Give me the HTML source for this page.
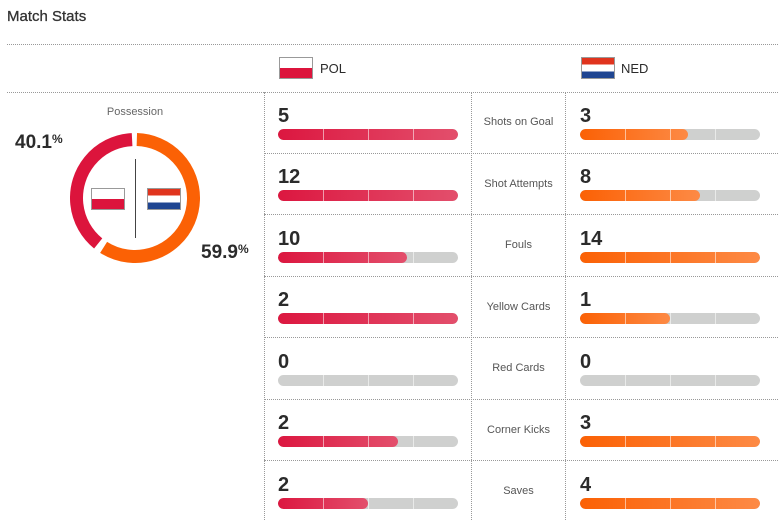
<!DOCTYPE html>
<html><head><meta charset="utf-8"><style>
body{margin:0;width:778px;height:520px;background:#fff;font-family:"Liberation Sans",sans-serif;position:relative;overflow:hidden;color:#2b2b2b}
.a{position:absolute}
.h{border-top:1px dotted #999;height:0}
.v{border-left:1px dotted #999;width:0}
.n{position:absolute;font-weight:bold;font-size:20px;line-height:20px}
.lb{position:absolute;left:471px;width:95px;text-align:center;font-size:11px;color:#555}
.bar{position:absolute;width:180px;height:11px;border-radius:6px;background:#cfd0cf;overflow:hidden}
.f{position:absolute;left:0;top:0;height:11px;border-radius:6px}
.r{background:linear-gradient(90deg,#dc1740,#e34f6c)}
.o{background:linear-gradient(90deg,#fb6105,#fd8a45)}
.t{position:absolute;top:0;width:1px;height:11px;background:rgba(255,255,255,.55)}
.flag{position:absolute;width:32px;height:20px;box-shadow:0 0 0 1px #999}
</style></head><body>
<div class="a" style="left:7px;top:8px;font-size:15px;color:#333;-webkit-text-stroke:0.3px #333">Match Stats</div>
<div class="a h" style="left:7px;top:44px;width:771px"></div>
<div class="a h" style="left:7px;top:92px;width:771px"></div>
<div class="a h" style="left:264px;top:153px;width:514px"></div>
<div class="a h" style="left:264px;top:214px;width:514px"></div>
<div class="a h" style="left:264px;top:276px;width:514px"></div>
<div class="a h" style="left:264px;top:337px;width:514px"></div>
<div class="a h" style="left:264px;top:399px;width:514px"></div>
<div class="a h" style="left:264px;top:460px;width:514px"></div>
<div class="a v" style="left:264px;top:92px;height:428px"></div>
<div class="a v" style="left:471px;top:92px;height:428px"></div>
<div class="a v" style="left:565px;top:92px;height:428px"></div>

<div class="flag" style="left:280px;top:58px;background:linear-gradient(#fff 50%,#dc143c 50%)"></div>
<div class="a" style="left:320px;top:61px;font-size:13px">POL</div>
<div class="flag" style="left:582px;top:58px;background:linear-gradient(#e0341e 33%,#fff 33%,#fff 67%,#1f4591 67%)"></div>
<div class="a" style="left:621px;top:61px;font-size:13px">NED</div>

<div class="a" style="left:85px;top:106px;width:100px;text-align:center;font-size:11px;color:#666">Possession</div>
<div class="a" style="left:15px;top:132px;font-size:19px;font-weight:bold">40.1<span style="font-size:12px;vertical-align:5px">%</span></div>
<div class="a" style="left:201px;top:242px;font-size:19px;font-weight:bold">59.9<span style="font-size:12px;vertical-align:5px">%</span></div>
<svg class="a" style="left:70px;top:133px" width="130" height="130">
<g transform="translate(65,65) rotate(-90)">
<circle r="58.5" fill="none" stroke="#fb6105" stroke-width="13" stroke-dasharray="215 400" transform="rotate(1.8)"/>
<circle r="58.5" fill="none" stroke="#dc143c" stroke-width="13" stroke-dasharray="141 400" transform="rotate(219)"/>
</g>
<line x1="65.5" y1="26" x2="65.5" y2="105" stroke="#444" stroke-width="1"/>
</svg>
<div class="flag" style="left:92px;top:189px;background:linear-gradient(#fff 50%,#dc143c 50%)"></div>
<div class="flag" style="left:148px;top:189px;background:linear-gradient(#e0341e 33%,#fff 33%,#fff 67%,#1f4591 67%)"></div>

<div class="n" style="left:278px;top:106px">5</div>
<div class="bar" style="left:278px;top:129px"><div class="f r" style="width:180px"></div><i class="t" style="left:45px"></i><i class="t" style="left:90px"></i><i class="t" style="left:135px"></i></div>
<div class="lb" style="top:116px">Shots on Goal</div>
<div class="n" style="left:580px;top:106px">3</div>
<div class="bar" style="left:580px;top:129px"><div class="f o" style="width:108px"></div><i class="t" style="left:45px"></i><i class="t" style="left:90px"></i><i class="t" style="left:135px"></i></div>

<div class="n" style="left:278px;top:167px">12</div>
<div class="bar" style="left:278px;top:190px"><div class="f r" style="width:180px"></div><i class="t" style="left:45px"></i><i class="t" style="left:90px"></i><i class="t" style="left:135px"></i></div>
<div class="lb" style="top:178px">Shot Attempts</div>
<div class="n" style="left:580px;top:167px">8</div>
<div class="bar" style="left:580px;top:190px"><div class="f o" style="width:120px"></div><i class="t" style="left:45px"></i><i class="t" style="left:90px"></i><i class="t" style="left:135px"></i></div>

<div class="n" style="left:278px;top:229px">10</div>
<div class="bar" style="left:278px;top:252px"><div class="f r" style="width:129px"></div><i class="t" style="left:45px"></i><i class="t" style="left:90px"></i><i class="t" style="left:135px"></i></div>
<div class="lb" style="top:239px">Fouls</div>
<div class="n" style="left:580px;top:229px">14</div>
<div class="bar" style="left:580px;top:252px"><div class="f o" style="width:180px"></div><i class="t" style="left:45px"></i><i class="t" style="left:90px"></i><i class="t" style="left:135px"></i></div>

<div class="n" style="left:278px;top:290px">2</div>
<div class="bar" style="left:278px;top:313px"><div class="f r" style="width:180px"></div><i class="t" style="left:45px"></i><i class="t" style="left:90px"></i><i class="t" style="left:135px"></i></div>
<div class="lb" style="top:301px">Yellow Cards</div>
<div class="n" style="left:580px;top:290px">1</div>
<div class="bar" style="left:580px;top:313px"><div class="f o" style="width:90px"></div><i class="t" style="left:45px"></i><i class="t" style="left:90px"></i><i class="t" style="left:135px"></i></div>

<div class="n" style="left:278px;top:352px">0</div>
<div class="bar" style="left:278px;top:375px"><i class="t" style="left:45px"></i><i class="t" style="left:90px"></i><i class="t" style="left:135px"></i></div>
<div class="lb" style="top:362px">Red Cards</div>
<div class="n" style="left:580px;top:352px">0</div>
<div class="bar" style="left:580px;top:375px"><i class="t" style="left:45px"></i><i class="t" style="left:90px"></i><i class="t" style="left:135px"></i></div>

<div class="n" style="left:278px;top:413px">2</div>
<div class="bar" style="left:278px;top:436px"><div class="f r" style="width:120px"></div><i class="t" style="left:45px"></i><i class="t" style="left:90px"></i><i class="t" style="left:135px"></i></div>
<div class="lb" style="top:424px">Corner Kicks</div>
<div class="n" style="left:580px;top:413px">3</div>
<div class="bar" style="left:580px;top:436px"><div class="f o" style="width:180px"></div><i class="t" style="left:45px"></i><i class="t" style="left:90px"></i><i class="t" style="left:135px"></i></div>

<div class="n" style="left:278px;top:475px">2</div>
<div class="bar" style="left:278px;top:498px"><div class="f r" style="width:90px"></div><i class="t" style="left:45px"></i><i class="t" style="left:90px"></i><i class="t" style="left:135px"></i></div>
<div class="lb" style="top:485px">Saves</div>
<div class="n" style="left:580px;top:475px">4</div>
<div class="bar" style="left:580px;top:498px"><div class="f o" style="width:180px"></div><i class="t" style="left:45px"></i><i class="t" style="left:90px"></i><i class="t" style="left:135px"></i></div>
</body></html>
